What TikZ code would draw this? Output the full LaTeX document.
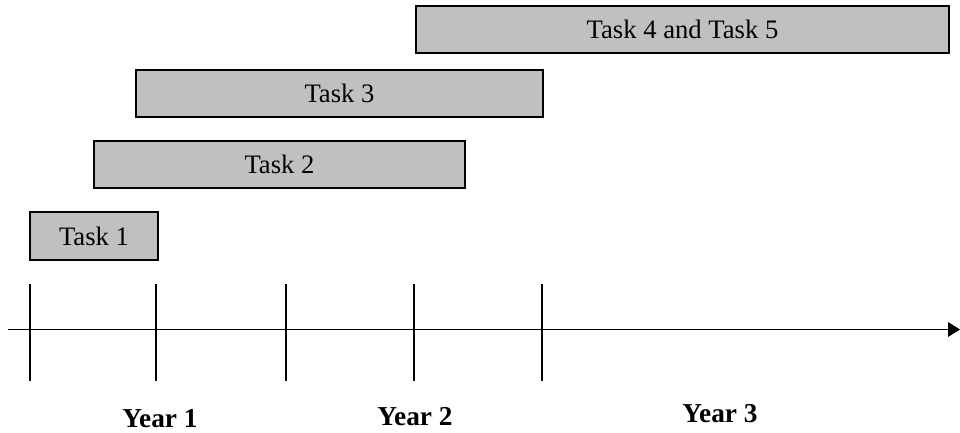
\documentclass[tikz,border=0pt]{standalone}
\usepackage{fontspec}
\setmainfont{Liberation Serif}
\usetikzlibrary{arrows.meta}
\begin{document}
\begin{tikzpicture}[x=0.75pt,y=-0.75pt,
  taskbox/.style={draw=black, line width=0.9pt, fill={rgb,255:red,192;green,192;blue,192},
    inner sep=0pt, font=\fontsize{20}{23}\selectfont},
  axisline/.style={draw=black, line width=1pt},
  yearlabel/.style={font=\fontsize{20.5}{24}\selectfont\bfseries, inner sep=0pt}]
\useasboundingbox (0,0) rectangle (960,432);
% task boxes
\node[taskbox, minimum width=96pt, minimum height=36pt] (t1) at (94,236) {Task 1};
\node[taskbox, minimum width=278.25pt, minimum height=35.25pt] (t2) at (279.5,164.5) {Task 2};
\node[taskbox, minimum width=305.25pt, minimum height=35.25pt] (t3) at (339.5,93.5) {Task 3};
\node[taskbox, minimum width=399.75pt, minimum height=35.25pt] (t45) at (682.5,29.5) {Task 4 and Task 5};
% axis
\coordinate (axL) at (8,329.5);
\coordinate (axR) at (960,329.5);
\draw[axisline, -{Triangle[length=9pt,width=11pt]}] (axL) -- (axR);
% ticks
\foreach \i/\x in {1/30,2/156,3/286,4/414,5/542}{
  \coordinate (tk\i a) at (\x,284);
  \coordinate (tk\i b) at (\x,381);
  \draw[axisline] (tk\i a) -- (tk\i b);
}
% year labels
\node[yearlabel] (y1) at (160,419) {Year 1};
\node[yearlabel] (y2) at (415,416.5) {Year 2};
\node[yearlabel] (y3) at (720,414) {Year 3};
\end{tikzpicture}
\end{document}
